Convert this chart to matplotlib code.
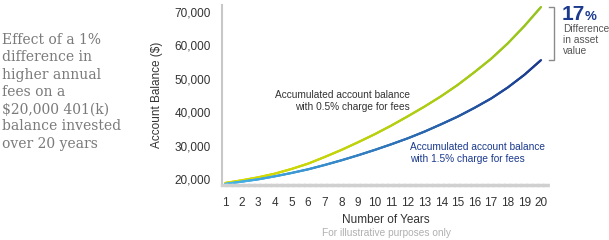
import numpy as np
import matplotlib
matplotlib.use("Agg")
import matplotlib.pyplot as plt
from matplotlib.collections import LineCollection
from matplotlib.colors import LinearSegmentedColormap

# ---- data ----
years = list(range(1, 21))
low_fee = [18800, 19600, 20500, 21600, 23000, 24600, 26600, 28700, 31000, 33400,
           36000, 38800, 41700, 44800, 48200, 52000, 56000, 60600, 65800, 71500]
high_fee = [18500, 19200, 19900, 20800, 21800, 22900, 24200, 25600, 27100, 28700,
            30400, 32200, 34200, 36400, 38700, 41300, 44100, 47400, 51200, 55600]
y_ticks = [20000, 30000, 40000, 50000, 60000, 70000]
title_text = "Effect of a 1%\ndifference in\nhigher annual\nfees on a\n$20,000 401(k)\nbalance invested\nover 20 years"
low_label = "Accumulated account balance\nwith 0.5% charge for fees"
high_label = "Accumulated account balance\nwith 1.5% charge for fees"
pct_label = "17"
diff_label = "Difference\nin asset\nvalue"

plt.rcParams['font.family'] = ['Liberation Sans', 'DejaVu Sans']

W, H = 609, 240
fig = plt.figure(figsize=(W / 100, H / 100), dpi=100)
ax = fig.add_axes([222 / W, 1 - 185 / H, (549 - 222) / W, (185 - 5) / H])

ax.set_xlim(0.82, 20.48)
ax.set_ylim(18200, 72100)


def grad_line(xs, ys, c0, c1, lw=1.6):
    xs = np.asarray(xs, float)
    ys = np.asarray(ys, float)
    xd = np.linspace(xs[0], xs[-1], 400)
    yd = np.interp(xd, xs, ys)
    pts = np.column_stack([xd, yd]).reshape(-1, 1, 2)
    segs = np.concatenate([pts[:-1], pts[1:]], axis=1)
    cmap = LinearSegmentedColormap.from_list("g", [c0, c1])
    lc = LineCollection(segs, cmap=cmap, linewidths=lw, capstyle='round')
    lc.set_array(np.linspace(0, 1, len(segs)))
    ax.add_collection(lc)


grad_line(years, low_fee, "#dcdc00", "#95c41e")
grad_line(years, high_fee, "#45b4e8", "#1b3a8e")

ax.set_xticks(years)
ax.set_xticklabels([str(y) for y in years])
ax.set_yticks(y_ticks)
ax.set_yticklabels([f"{v:,}" for v in y_ticks])
ax.tick_params(axis='both', length=0, labelsize=8.5, colors='#333333')
ax.tick_params(axis='x', pad=9)
ax.tick_params(axis='y', pad=8)

for s in ['top', 'right']:
    ax.spines[s].set_visible(False)
ax.spines['left'].set_color('#c8c8c8')
ax.spines['left'].set_linewidth(1.5)
ax.spines['bottom'].set_color('#d0d0d0')
ax.spines['bottom'].set_linewidth(2.5)
ax.spines['bottom'].set_linestyle((0, (1, 0.6)))

ax.set_xlabel("Number of Years", fontsize=8.5, color='#333333', labelpad=3)
ax.set_ylabel("Account Balance ($)", fontsize=8.5, color='#333333', labelpad=8)

# left title
fig.text(2 / W, 1 - 33 / H, title_text, ha='left', va='top', fontsize=10,
         family='DejaVu Serif', color='#7a7a7a', linespacing=1.3)

# annotations
ax.text(12.1, 43300, low_label, ha='right', va='center', fontsize=7.3,
        color='#333333', linespacing=1.2)
ax.text(12.15, 27800, high_label, ha='left', va='center', fontsize=7.3,
        color='#1b3a8e', linespacing=1.2)

# bracket
bx = 20.76
ax.plot([bx - 0.25, bx, bx, bx - 0.25], [71500, 71500, 55600, 55600],
        color='#8a8a8a', lw=1.0, clip_on=False, solid_joinstyle='miter')

fig.text(562 / W, 1 - 20 / H, pct_label, ha='left', va='baseline', fontsize=15,
         fontweight='bold', color='#1b3a8e')
fig.text(585 / W, 1 - 20 / H, "%", ha='left', va='baseline', fontsize=9.5,
         fontweight='bold', color='#1b3a8e')
fig.text(563 / W, 1 - 24 / H, diff_label, ha='left', va='top', fontsize=7.3,
         color='#555555', linespacing=1.15)

fig.text(386 / W, 1 - 233 / H, "For illustrative purposes only", ha='center',
         va='center', fontsize=7.3, color='#b0b0b0')

fig.savefig("out.png", dpi=100, facecolor='white')
